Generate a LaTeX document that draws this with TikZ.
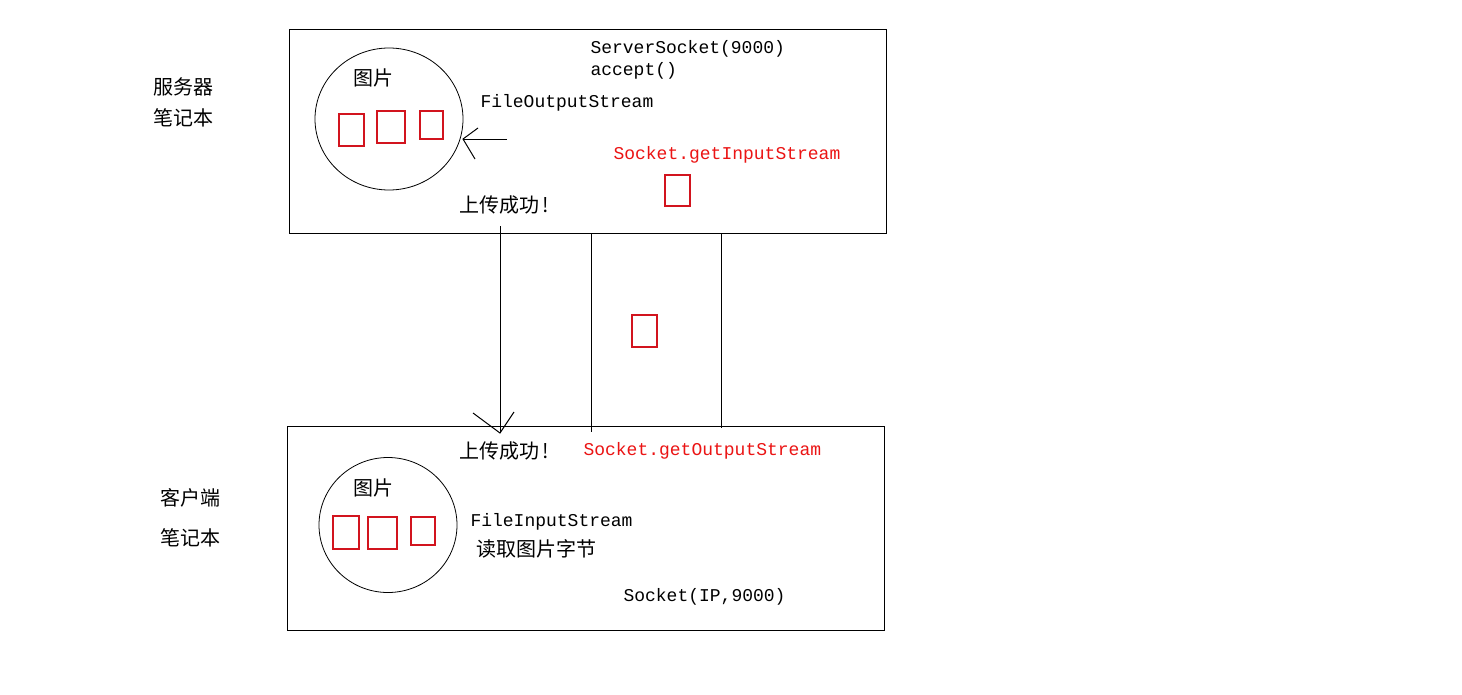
\documentclass[tikz,border=0pt]{standalone}
\usepackage{fontspec}
\usetikzlibrary{shapes.geometric}
\setmonofont{Liberation Mono}
\newfontfamily\cjk{Noto Sans CJK SC}
\definecolor{txtred}{RGB}{235,20,20}
\definecolor{boxred}{RGB}{210,20,30}
\begin{document}
\begin{tikzpicture}[x=1pt,y=-1pt,line width=1pt,
  frame/.style={draw=black,minimum width=#1,anchor=north west,inner sep=0pt},
  cjklabel/.style={font=\cjk\fontsize{20}{23}\selectfont,inner sep=0pt},
  code/.style={font=\ttfamily\fontsize{18}{21}\selectfont,inner sep=0pt,anchor=west},
  redcode/.style={code,text=txtred},
  pic/.style={draw=boxred,inner sep=0pt,line width=1.2pt},
  plain/.style={draw=black,line width=1pt}]
\useasboundingbox[fill=white] (0,0) rectangle (1462,694);
% boxes
\node[frame=597pt,minimum height=204pt] (server) at (289,29) {};
\node[frame=597pt,minimum height=204pt] (client) at (287,426) {};
% circles
\node[draw,ellipse,minimum width=148pt,minimum height=142pt,inner sep=0pt,line width=0.8pt] (scirc) at (389,119) {};
\node[draw,ellipse,minimum width=138pt,minimum height=135pt,inner sep=0pt,line width=0.8pt] (ccirc) at (388,525) {};
% red squares (server)
\draw[pic] (339,114) rectangle (364,146);
\draw[pic] (377,111) rectangle (405,143);
\draw[pic] (420,111) rectangle (443,139);
\draw[pic] (665,175) rectangle (690,206);
\draw[pic] (632,315) rectangle (657,347);
% red squares (client)
\draw[pic] (333,516) rectangle (359,549);
\draw[pic] (368,517) rectangle (397,549);
\draw[pic] (411,517) rectangle (435,545);
% left labels
\node[cjklabel] (l1) at (183,87) {服务器};
\node[cjklabel] (l2) at (183,118) {笔记本};
\node[cjklabel] (l3) at (190,498) {客户端};
\node[cjklabel] (l4) at (190,538) {笔记本};
% server texts
\node[cjklabel] (sp) at (373,78) {图片};
\node[code] (fos) at (480,103) {FileOutputStream};
\node[code] (ss) at (590,49) {ServerSocket(9000)};
\node[code] (acc) at (590,71) {accept()};
\node[redcode] (gis) at (613,155) {Socket.getInputStream};
\node[cjklabel,anchor=west] (ok1) at (459,205) {上传成功\,!};
% client texts
\node[cjklabel,anchor=west] (ok2) at (459,451) {上传成功\,!};
\node[redcode] (gos) at (583,451) {Socket.getOutputStream};
\node[cjklabel] (cp) at (373,488) {图片};
\node[code] (fis) at (470,522) {FileInputStream};
\node[cjklabel,anchor=west] (rd) at (476,549) {读取图片字节};
\node[code] (sk) at (623,597) {Socket(IP,9000)};
% hand arrow into server circle
\coordinate (a1s) at (507,139);
\coordinate (a1t) at (463,139);
\coordinate (a1h1) at (478,128);
\coordinate (a1h2) at (475,159);
\draw[plain] (a1s) -- (a1t);
\draw[plain] (a1h1) -- (a1t) -- (a1h2);
% connectors between boxes
\coordinate (d1s) at (500,226);
\coordinate (d1t) at (500,433);
\coordinate (d1h1) at (473,413);
\coordinate (d1h2) at (514,412);
\draw[plain] (d1s) -- (d1t);
\draw[plain] (d1h1) -- (d1t) -- (d1h2);
\coordinate (c2s) at (591,233);
\coordinate (c2t) at (591,432);
\draw[plain] (c2s) -- (c2t);
\coordinate (c3s) at (721,233);
\coordinate (c3t) at (721,428);
\draw[plain] (c3s) -- (c3t);
\end{tikzpicture}
\end{document}
